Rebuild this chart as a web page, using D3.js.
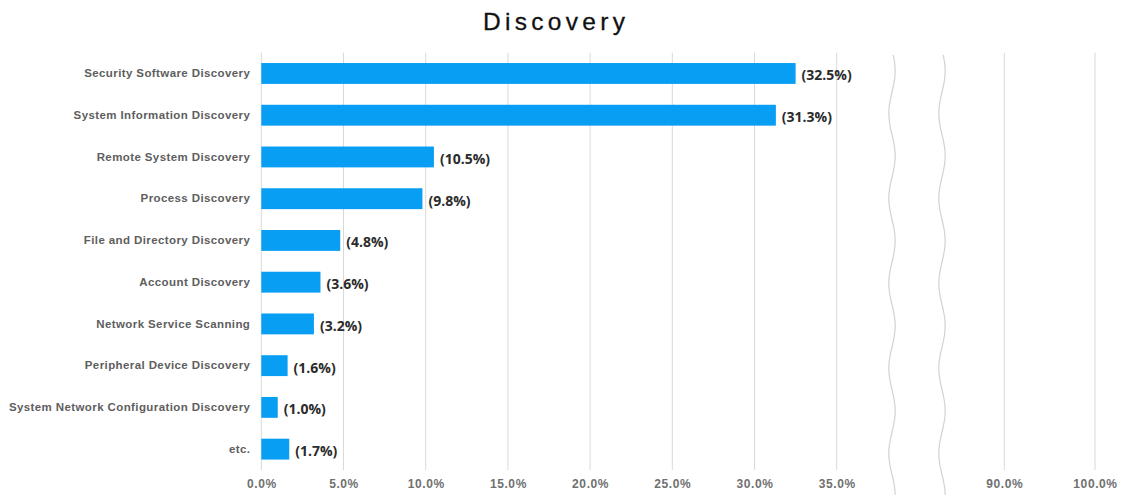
<!DOCTYPE html>
<html>
<head>
<meta charset="utf-8">
<script src="https://cdn.jsdelivr.net/npm/d3@7"></script>
<style>
  html, body { margin: 0; padding: 0; background: #fff; }
  svg { display: block; }
</style>
</head>
<body>
<svg id="chart" width="1126" height="496"></svg>
<script>
// Discovery techniques, share of observations (%)
const categories = [
  "Security Software Discovery",
  "System Information Discovery",
  "Remote System Discovery",
  "Process Discovery",
  "File and Directory Discovery",
  "Account Discovery",
  "Network Service Scanning",
  "Peripheral Device Discovery",
  "System Network Configuration Discovery",
  "etc."
];
const values = [32.5, 31.3, 10.5, 9.8, 4.8, 3.6, 3.2, 1.6, 1.0, 1.7];
const tickValues = [0, 5, 10, 15, 20, 25, 30, 35, 90, 100];

const svg = d3.select("#chart");
const W = 1126, H = 496;
const plotTop = 52.6, plotBottom = 470;

// Broken x axis: 0–35% then a gap, then 90–100%
const x = d3.scaleLinear()
  .domain([0, 35, 90, 100])
  .range([261.3, 836.7, 1004.3, 1095]);

const y = d3.scaleBand()
  .domain(categories)
  .range([plotTop, plotBottom])
  .paddingInner(0.5)
  .paddingOuter(0.25);

// Title
svg.append("text")
  .attr("x", 483)
  .attr("y", 30)
  .attr("font-family", "'Liberation Sans', Arial, sans-serif")
  .attr("font-size", 24.5)
  .attr("letter-spacing", "4.3px")
  .attr("fill", "#111")
  .attr("stroke", "#111")
  .attr("stroke-width", 0.3)
  .text("Discovery");

// Vertical gridlines
svg.append("g")
  .selectAll("line")
  .data(tickValues)
  .join("line")
  .attr("x1", d => x(d)).attr("x2", d => x(d))
  .attr("y1", plotTop).attr("y2", plotBottom)
  .attr("stroke", "#d9d9d9")
  .attr("stroke-width", 1);

// Axis break markers (wavy lines)
const wave = d3.line().curve(d3.curveBasis);
function wavePts(cx) {
  const pts = [];
  for (let yy = 55; yy <= 498; yy += 4) {
    pts.push([cx + 3.2 * Math.sin((yy - 55) / 85 * 2 * Math.PI + 0.4), yy]);
  }
  return pts;
}
[892, 942].forEach(cx => {
  svg.append("path")
    .attr("d", wave(wavePts(cx)))
    .attr("fill", "none")
    .attr("stroke", "#d2d2d2")
    .attr("stroke-width", 1.2);
});

// x-axis tick labels
const xAxis = d3.axisBottom(x)
  .tickValues(tickValues)
  .tickSize(0)
  .tickFormat(d => d.toFixed(1) + "%");
const gx = svg.append("g")
  .attr("transform", `translate(0,${plotBottom + 6})`)
  .call(xAxis);
gx.select(".domain").remove();
gx.selectAll("text")
  .attr("font-family", "'Liberation Sans', Arial, sans-serif")
  .attr("font-size", 12)
  .attr("font-weight", "bold")
  .attr("letter-spacing", "0.6px")
  .attr("fill", "#707070");

// Category labels
const yAxis = d3.axisLeft(y).tickSize(0).tickPadding(11);
const gy = svg.append("g")
  .attr("transform", `translate(${x(0)},0)`)
  .call(yAxis);
gy.select(".domain").remove();
gy.selectAll("text")
  .attr("font-family", "'Liberation Sans', Arial, sans-serif")
  .attr("font-size", 11.5)
  .attr("font-weight", "bold")
  .attr("letter-spacing", "0.4px")
  .attr("fill", "#5e5e5e");

// Bars
svg.append("g")
  .selectAll("rect")
  .data(categories)
  .join("rect")
  .attr("x", x(0))
  .attr("y", d => y(d))
  .attr("width", (d, i) => x(values[i]) - x(0))
  .attr("height", y.bandwidth())
  .attr("fill", "#079ef3");

// Value labels
svg.append("g")
  .selectAll("text")
  .data(categories)
  .join("text")
  .attr("x", (d, i) => x(values[i]) + 6)
  .attr("y", d => y(d) + y.bandwidth() / 2 + 2)
  .attr("dy", "0.35em")
  .attr("font-family", "'Open Sans', sans-serif")
  .attr("font-size", 14)
  .attr("font-weight", "bold")
  .attr("fill", "#2b2b2b")
  .text((d, i) => "(" + values[i].toFixed(1) + "%)");
</script>
</body>
</html>
